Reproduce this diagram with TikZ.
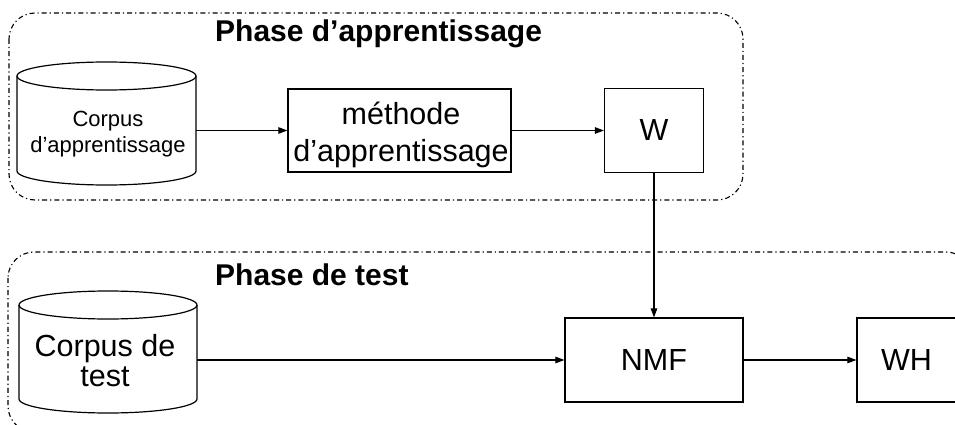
\documentclass[tikz,border=0pt]{standalone}
\usepackage{fontspec}
\setmainfont{Liberation Sans}
\usetikzlibrary{arrows.meta}
\begin{document}
\begin{tikzpicture}[x=1pt,y=1pt,
  phase/.style={draw, line width=1.1pt, dash pattern=on 5pt off 3pt on 1.2pt off 3pt, rounded corners=26pt},
  box/.style={draw, line width=1.2pt, inner sep=0pt},
  bigtext/.style={font=\fontsize{30.5}{36.5}\selectfont, align=center},
  title/.style={anchor=base west, inner sep=0pt, font=\bfseries\fontsize{30}{36}\selectfont},
  link/.style={line width=1.1pt, -{Triangle[length=9pt,width=6.5pt]}},
  cyl/.style={line width=1.2pt},
  anchorbox/.style={inner sep=0pt, minimum height=60pt}
]
\useasboundingbox (0,0) rectangle (955,424);
\clip (0,0) rectangle (955,424);
% containers
\draw[phase] (9,411) rectangle (743,224);
\draw[phase] (8,172) rectangle (972,-8);
% titles
\node[title] (t1) at (215,382) {Phase d’apprentissage};
\node[title] (t2) at (215,139) {Phase de test};
% cylinder 1
\draw[cyl] (17,348) -- (17,253) arc[start angle=180,end angle=360,x radius=89.5,y radius=14] -- (196,348);
\draw[cyl] (106.5,348) ellipse[x radius=89.5, y radius=14];
\node[anchorbox, minimum width=179pt] (c1) at (106.5,293.5) {};
\node[font=\fontsize{22}{26}\selectfont, align=center] (c1t) at (108,289.75) {Corpus\\d’apprentissage};
% methode
\node[box, minimum width=223pt, minimum height=83pt] (m) at (399.5,293.5) {};
\node[bigtext] (mt) at (401,289.3) {méthode\\d’apprentissage};
% W
\node[box, minimum width=99pt, minimum height=84pt, bigtext] (w) at (654,293.5) {W};
% cylinder 2
\draw[cyl] (19,119) -- (19,25) arc[start angle=180,end angle=360,x radius=89,y radius=14] -- (197,119);
\draw[cyl] (108,119) ellipse[x radius=89, y radius=14];
\node[anchorbox, minimum width=178pt] (c2) at (108,64) {};
\node[font=\fontsize{30.5}{29.5}\selectfont, align=center] (c2t) at (105,63.4) {Corpus de\\test};
% NMF, WH
\node[box, minimum width=178pt, minimum height=84pt, bigtext] (nmf) at (654,64) {NMF};
\node[box, minimum width=99pt, minimum height=84pt, bigtext] (wh) at (906.5,64) {WH};
% connectors
\draw[link] (c1.east) -- (m.west);
\draw[link] (m.east) -- (w.west);
\draw[link] (w.south) -- (nmf.north);
\draw[link] (c2.east) -- (nmf.west);
\draw[link] (nmf.east) -- (wh.west);
\end{tikzpicture}
\end{document}
